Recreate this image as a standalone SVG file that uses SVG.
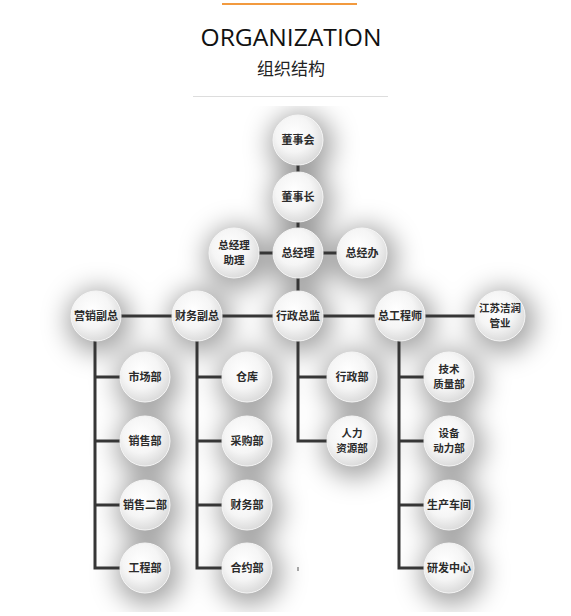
<svg xmlns="http://www.w3.org/2000/svg" width="571" height="616" viewBox="0 0 571 616">
<defs>
<radialGradient id="ball" cx="42%" cy="38%" r="65%">
<stop offset="0" stop-color="#ffffff"/>
<stop offset="0.55" stop-color="#f5f5f5"/>
<stop offset="1" stop-color="#d9d9d9"/>
</radialGradient>
<filter id="blur" x="-50%" y="-50%" width="200%" height="200%">
<feGaussianBlur stdDeviation="13"/>
</filter>
<clipPath id="area"><rect x="0" y="106" width="571" height="506"/></clipPath>
</defs>
<style>
.t{font-family:"Noto Sans CJK SC","Noto Sans",sans-serif;font-weight:bold;font-size:11px;fill:#2b2b2b;text-anchor:middle}
.t2{font-size:10.5px}
.n circle{fill:url(#ball);stroke:#f6f6f6;stroke-width:1}
.c{fill:none;stroke:#363636;stroke-width:3}
.sh circle{fill:#000;fill-opacity:0.36}
</style>
<rect width="571" height="616" fill="#ffffff"/>
<g id="header">
<rect x="222" y="3" width="135" height="2" fill="#f29a3f"/>
<text x="291" y="46" font-family="'Open Sans','Noto Sans',sans-serif" font-size="23" fill="#111" text-anchor="middle" textLength="181" lengthAdjust="spacingAndGlyphs">ORGANIZATION</text>
<text x="291" y="75" font-family="'Noto Sans CJK SC',sans-serif" font-size="17" fill="#222" text-anchor="middle">组织结构</text>
<rect x="193" y="96" width="195" height="1" fill="#dddddd"/>
</g>
<g id="shadows" clip-path="url(#area)">
<g class="sh" filter="url(#blur)" transform="translate(3,5)">
<circle cx="298" cy="140" r="32"/><circle cx="298" cy="197" r="32"/><circle cx="298" cy="253" r="32"/>
<circle cx="234" cy="253" r="32"/><circle cx="362" cy="253" r="32"/>
<circle cx="96" cy="316" r="32"/><circle cx="197" cy="316" r="32"/><circle cx="298" cy="316" r="32"/><circle cx="400" cy="316" r="32"/><circle cx="500" cy="316" r="32"/>
<circle cx="145" cy="377" r="32"/><circle cx="145" cy="441" r="32"/><circle cx="145" cy="505" r="32"/><circle cx="145" cy="568" r="32"/>
<circle cx="247" cy="377" r="32"/><circle cx="247" cy="441" r="32"/><circle cx="247" cy="505" r="32"/><circle cx="247" cy="568" r="32"/>
<circle cx="352" cy="377" r="32"/><circle cx="352" cy="441" r="32"/>
<circle cx="449" cy="377" r="32"/><circle cx="449" cy="441" r="32"/><circle cx="449" cy="505" r="32"/><circle cx="449" cy="568" r="32"/>
</g>
</g>
<g id="connectors">
<path class="c" d="M298 160V178M298 217V234M254 253H278M318 253H342M298 273V296"/>
<path class="c" d="M116 316H177M217 316H278M318 316H380M420 316H480"/>
<path class="c" d="M95 336V568H130M95 377H130M95 441H130M95 505H130"/>
<path class="c" d="M197 336V568H232M197 377H232M197 441H232M197 505H232"/>
<path class="c" d="M298 336V441H337M298 377H337"/>
<path class="c" d="M399 336V568H434M399 377H434M399 441H434M399 505H434"/>
<rect x="297.5" y="567" width="1" height="4" fill="#555"/>
</g>
<g id="n-dongshihui" class="n"><circle cx="298" cy="140" r="25"/><text class="t" x="298" y="144">董事会</text></g>
<g id="n-dongshizhang" class="n"><circle cx="298" cy="197" r="25"/><text class="t" x="298" y="201">董事长</text></g>
<g id="n-zongjingli" class="n"><circle cx="298" cy="253" r="25"/><text class="t" x="298" y="257">总经理</text></g>
<g id="n-zhuli" class="n"><circle cx="234" cy="253" r="25"/><text class="t t2" x="234" y="249">总经理</text><text class="t t2" x="234" y="264">助理</text></g>
<g id="n-zongjingban" class="n"><circle cx="362" cy="253" r="25"/><text class="t" x="362" y="257">总经办</text></g>
<g id="n-yingxiao" class="n"><circle cx="96" cy="316" r="25"/><text class="t" x="96" y="320">营销副总</text></g>
<g id="n-caiwufuzong" class="n"><circle cx="197" cy="316" r="25"/><text class="t" x="197" y="320">财务副总</text></g>
<g id="n-xingzhengzongjian" class="n"><circle cx="298" cy="316" r="25"/><text class="t" x="298" y="320">行政总监</text></g>
<g id="n-zonggongchengshi" class="n"><circle cx="400" cy="316" r="25"/><text class="t" x="400" y="320">总工程师</text></g>
<g id="n-jiangsu" class="n"><circle cx="500" cy="316" r="25"/><text class="t t2" x="500" y="312">江苏洁润</text><text class="t t2" x="500" y="327">管业</text></g>
<g id="n-shichang" class="n"><circle cx="145" cy="377" r="25"/><text class="t" x="145" y="381">市场部</text></g>
<g id="n-xiaoshou" class="n"><circle cx="145" cy="441" r="25"/><text class="t" x="145" y="445">销售部</text></g>
<g id="n-xiaoshou2" class="n"><circle cx="145" cy="505" r="25"/><text class="t" x="145" y="509">销售二部</text></g>
<g id="n-gongcheng" class="n"><circle cx="145" cy="568" r="25"/><text class="t" x="145" y="572">工程部</text></g>
<g id="n-cangku" class="n"><circle cx="247" cy="377" r="25"/><text class="t" x="247" y="381">仓库</text></g>
<g id="n-caigou" class="n"><circle cx="247" cy="441" r="25"/><text class="t" x="247" y="445">采购部</text></g>
<g id="n-caiwu" class="n"><circle cx="247" cy="505" r="25"/><text class="t" x="247" y="509">财务部</text></g>
<g id="n-heyue" class="n"><circle cx="247" cy="568" r="25"/><text class="t" x="247" y="572">合约部</text></g>
<g id="n-xingzheng" class="n"><circle cx="352" cy="377" r="25"/><text class="t" x="352" y="381">行政部</text></g>
<g id="n-renli" class="n"><circle cx="352" cy="441" r="25"/><text class="t t2" x="352" y="437">人力</text><text class="t t2" x="352" y="452">资源部</text></g>
<g id="n-jishu" class="n"><circle cx="449" cy="377" r="25"/><text class="t t2" x="449" y="373">技术</text><text class="t t2" x="449" y="388">质量部</text></g>
<g id="n-shebei" class="n"><circle cx="449" cy="441" r="25"/><text class="t t2" x="449" y="437">设备</text><text class="t t2" x="449" y="452">动力部</text></g>
<g id="n-shengchan" class="n"><circle cx="449" cy="505" r="25"/><text class="t" x="449" y="509">生产车间</text></g>
<g id="n-yanfa" class="n"><circle cx="449" cy="568" r="25"/><text class="t" x="449" y="572">研发中心</text></g>
</svg>
